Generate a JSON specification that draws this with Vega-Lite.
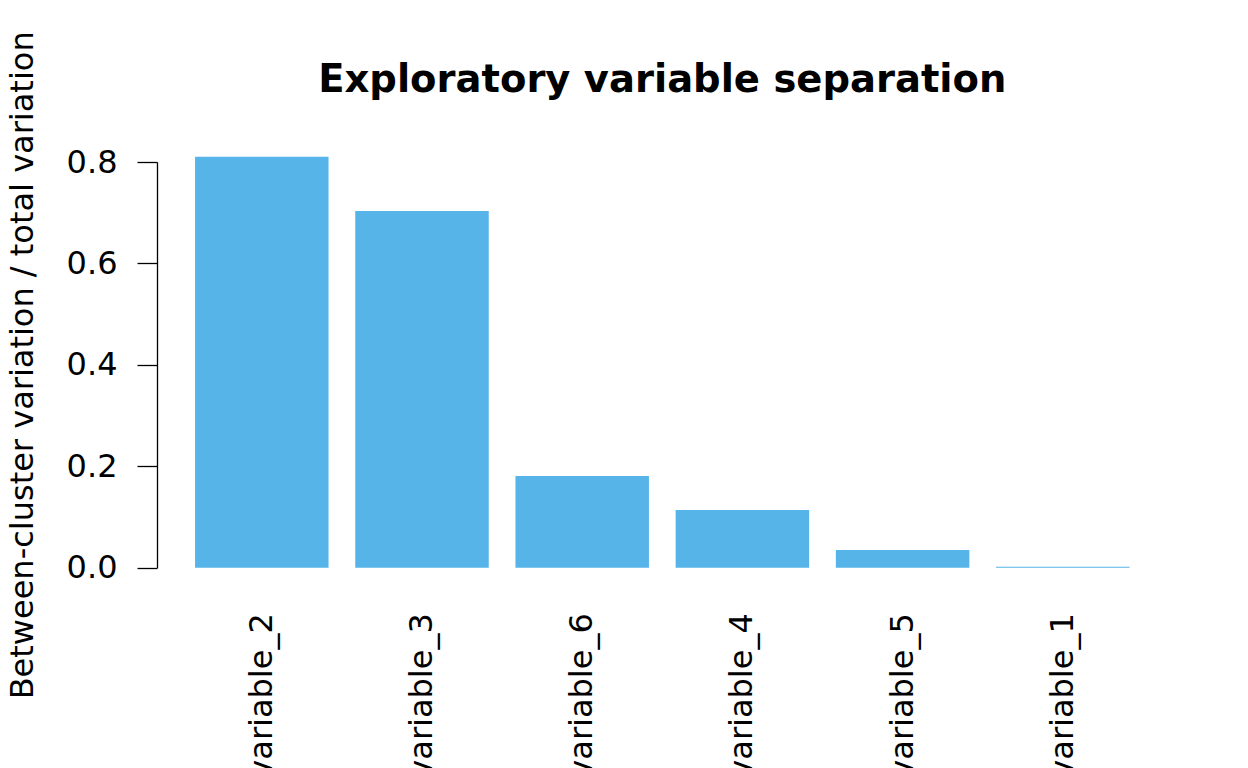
{
  "$schema": "https://vega.github.io/schema/vega-lite/v6.json",
  "autosize": {"type": "none"},
  "width": 961.2,
  "height": 405.7,
  "padding": {"left": 181.7, "top": 162, "right": 105.1, "bottom": 200.3},
  "background": "white",
  "title": {
    "text": "Exploratory variable separation",
    "font": "DejaVu Sans",
    "fontSize": 38.5,
    "fontWeight": "bold",
    "color": "black",
    "anchor": "middle",
    "offset": -70
  },
  "data": {
    "values": [
      {"variable": "variable_2", "value": 0.8105},
      {"variable": "variable_3", "value": 0.7034},
      {"variable": "variable_6", "value": 0.1808},
      {"variable": "variable_4", "value": 0.1138},
      {"variable": "variable_5", "value": 0.0349},
      {"variable": "variable_1", "value": 0.002}
    ]
  },
  "mark": {"type": "bar", "color": "#56B4E9", "clip": false},
  "encoding": {
    "x": {
      "field": "variable",
      "type": "nominal",
      "sort": null,
      "scale": {"paddingInner": 0.1667, "paddingOuter": 0.0833},
      "axis": {
        "title": null,
        "domain": false,
        "ticks": false,
        "labelAngle": -90,
        "labelAlign": "right",
        "labelBaseline": "middle",
        "labelFont": "DejaVu Sans",
        "labelFontSize": 32,
        "labelColor": "black",
        "labelPadding": 45
      }
    },
    "y": {
      "field": "value",
      "type": "quantitative",
      "scale": {"domain": [0, 0.8], "nice": false, "zero": true},
      "axis": {
        "title": "Between-cluster variation / total variation",
        "titleFont": "DejaVu Sans",
        "titleFontSize": 32,
        "titleFontWeight": "normal",
        "titleColor": "black",
        "titlePadding": 27,
        "values": [0, 0.2, 0.4, 0.6, 0.8],
        "format": ".1f",
        "grid": false,
        "offset": 24.7,
        "domainColor": "black",
        "domainWidth": 1.3,
        "tickColor": "black",
        "tickWidth": 1.3,
        "tickSize": 20,
        "labelPadding": 20,
        "labelFont": "DejaVu Sans",
        "labelFontSize": 32,
        "labelColor": "black"
      }
    }
  },
  "config": {"view": {"stroke": null}}
}
